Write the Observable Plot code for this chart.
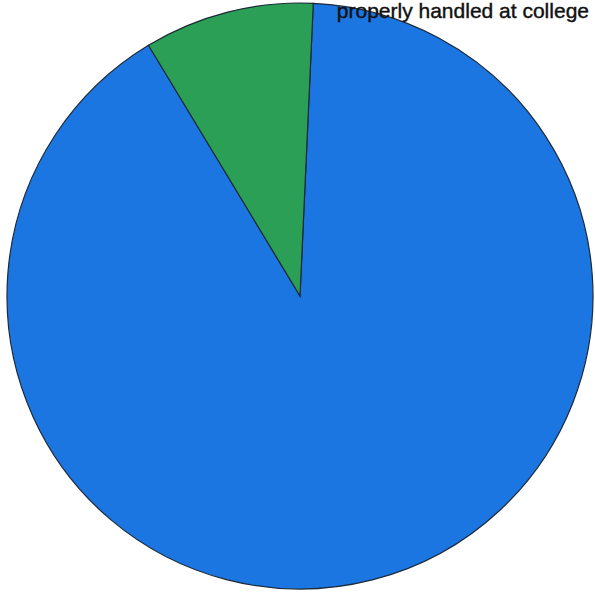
<!DOCTYPE html>
<html>
<head>
<meta charset="utf-8">
<script src="https://cdn.jsdelivr.net/npm/d3@7"></script>
<script src="https://cdn.jsdelivr.net/npm/@observablehq/plot@0.6"></script>
<style>
  html, body { margin: 0; padding: 0; background: #fff; overflow: hidden; }
  #wrap { position: relative; width: 595px; height: 593px; }
  #title { position: absolute; right: 6px; top: 0; line-height: 1; font-family: "Liberation Sans", Arial, sans-serif; font-size: 21px; color: #111; white-space: nowrap; -webkit-text-stroke: 0.4px #111; }
</style>
</head>
<body>
<div id="wrap">
  <div id="chart"></div>
  <div id="title">properly handled at college</div>
</div>
<script>
const categories = ["Not handled properly", "Handled properly"];
const values = [29, 3];
const colors = ["#1c76e2", "#2a9f55"];

const data = categories.map((c, i) => ({category: c, value: values[i]}));

const start = 2.6 * Math.PI / 180;
const pie = d3.pie().value(d => d.value).sort(null).startAngle(start).endAngle(start + 2 * Math.PI);
const arcs = pie(data);

const cx = 300, cy = 297, r = 293;

const plot = Plot.plot({
  width: 595,
  height: 593,
  margin: 0,
  x: {domain: [0, 595], axis: null},
  y: {domain: [0, 593], axis: null},
  color: {domain: categories, range: colors},
  marks: [
    Plot.dot([{x: cx, y: cy}], {x: "x", y: "y", r: 0, render: (index, scales) => {
      const g = d3.create("svg:g");
      const px = scales.x(cx), py = scales.y(cy);
      const arc = d3.arc().innerRadius(0).outerRadius(r);
      g.selectAll("path").data(arcs).join("path")
        .attr("transform", `translate(${px},${py})`)
        .attr("d", arc)
        .attr("fill", d => scales.color(d.data.category))
        .attr("stroke", "#1b2a3a")
        .attr("stroke-width", 1.2)
        .append("title").text(d => `${d.data.category}: ${d.data.value}`);
      return g.node();
    }})
  ]
});
document.getElementById("chart").appendChild(plot);
</script>
</body>
</html>
